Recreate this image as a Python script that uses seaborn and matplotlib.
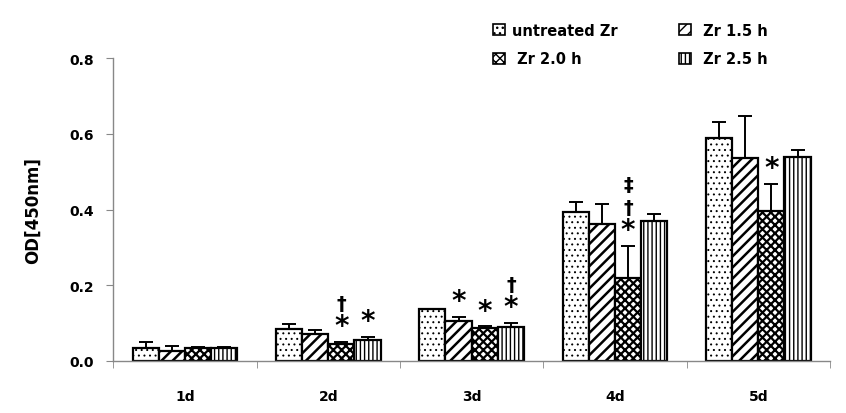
import numpy as np
import pandas as pd
import matplotlib
matplotlib.use("Agg")
import matplotlib.pyplot as plt
import seaborn as sns

# values
days = ["1d", "2d", "3d", "4d", "5d"]
groups = ["untreated Zr", "Zr 1.5 h", "Zr 2.0 h", "Zr 2.5 h"]

untreated = [0.034, 0.085, 0.137, 0.394, 0.588]
zr15 = [0.026, 0.070, 0.104, 0.363, 0.536]
zr20 = [0.034, 0.044, 0.087, 0.219, 0.397]
zr25 = [0.034, 0.054, 0.089, 0.369, 0.539]

untreated_sd = [0.017, 0.013, 0.0, 0.025, 0.043]
zr15_sd = [0.013, 0.011, 0.011, 0.051, 0.111]
zr20_sd = [0.002, 0.005, 0.004, 0.085, 0.070]
zr25_sd = [0.002, 0.009, 0.012, 0.019, 0.019]

# significance marks (bottom to top) per group and day
marks = {
    "Zr 1.5 h": {"3d": ["*"]},
    "Zr 2.0 h": {"2d": ["*", "\u2020"], "3d": ["*"], "4d": ["*", "\u2020", "\u2021"], "5d": ["*"]},
    "Zr 2.5 h": {"2d": ["*"], "3d": ["*", "\u2020"]},
}

hatches = ["...", "///", "xxxx", "||||"]
hatch_lw = [0.7, 1.8, 1.6, 1.0]

values = [untreated, zr15, zr20, zr25]
errors = [untreated_sd, zr15_sd, zr20_sd, zr25_sd]

df = pd.DataFrame({
    "day": np.tile(days, len(groups)),
    "group": np.repeat(groups, len(days)),
    "OD": np.concatenate(values),
})

sns.set_style("white")
plt.rcParams["font.family"] = ["DejaVu Sans"]
plt.rcParams["hatch.linewidth"] = 1.0
plt.rcParams["text.color"] = "black"
plt.rcParams["axes.labelcolor"] = "black"

fig = plt.figure(figsize=(8.46, 4.14), dpi=100)
ax = fig.add_axes([0.134, 0.126, 0.847, 0.731])

sns.barplot(data=df, x="day", y="OD", hue="group", order=days, hue_order=groups,
            errorbar=None, width=0.73, palette=["white"] * 4,
            edgecolor="black", linewidth=1.6, legend=False, ax=ax)

bar_conts = list(ax.containers)
for i, cont in enumerate(bar_conts):
    xs, tops = [], []
    for bar in cont.patches:
        bar.set_hatch(hatches[i])
        if hasattr(bar, "set_hatch_linewidth"):
            bar.set_hatch_linewidth(hatch_lw[i])
        bar.set_facecolor("white")
        bar.set_edgecolor("black")
        xs.append(bar.get_x() + bar.get_width() / 2)
        tops.append(bar.get_height())
    err = np.array(errors[i])
    ax.errorbar(xs, tops, yerr=[np.zeros_like(err), err], fmt="none",
                ecolor="black", elinewidth=1.4, capsize=5, capthick=1.4, zorder=3)
    for j, d in enumerate(days):
        labels = marks.get(groups[i], {}).get(d, [])
        base = tops[j] + err[j] + 0.042
        for k, s in enumerate(labels):
            ax.text(xs[j], base + k * 0.06, s, ha="center", va="center",
                    fontsize=20 if s == "*" else 14, fontweight="bold", color="black")

ax.set_ylim(0, 0.8)
ax.set_xlim(-0.5, 4.5)
ax.set_yticks([0.0, 0.2, 0.4, 0.6, 0.8])
ax.set_yticklabels(["0.0", "0.2", "0.4", "0.6", "0.8"], fontweight="bold", fontsize=10)
ax.set_xticks(range(len(days)))
ax.set_xticklabels(days, fontweight="bold", fontsize=10)
ax.set_xticks(np.arange(-0.5, 5, 1), minor=True)
ax.tick_params(axis="x", which="major", length=0, pad=20, labelcolor="black")
ax.tick_params(axis="x", which="minor", length=5, color="#888888", direction="out", bottom=True)
ax.tick_params(axis="y", length=5, color="#888888", direction="out", left=True, pad=9,
               labelcolor="black")
ax.set_xlabel("")
ax.set_ylabel("OD[450nm]", fontweight="bold", fontsize=12, labelpad=20)

sns.despine(ax=ax)
for sp in ["left", "bottom"]:
    ax.spines[sp].set_color("#888888")
    ax.spines[sp].set_linewidth(1)

# legend: column-major order untreated, 2.0 h | 1.5 h, 2.5 h
order = [0, 2, 1, 3]
handles = []
for i in order:
    h = plt.Rectangle((0, 0), 1, 1, facecolor="white", edgecolor="black",
                      hatch=hatches[i], linewidth=1.2)
    handles.append(h)
leg_labels = [groups[i] if i == 0 else " " + groups[i] for i in order]
fig.legend(handles, leg_labels, ncol=2, frameon=False,
           loc="upper left", bbox_to_anchor=(0.583, 0.943), borderaxespad=0, borderpad=0,
           prop={"weight": "bold", "size": 10.5}, handlelength=0.8, handleheight=0.8,
           handletextpad=0.5, columnspacing=4.2, labelspacing=0.95, labelcolor="black")

fig.savefig("out.png", dpi=100)
